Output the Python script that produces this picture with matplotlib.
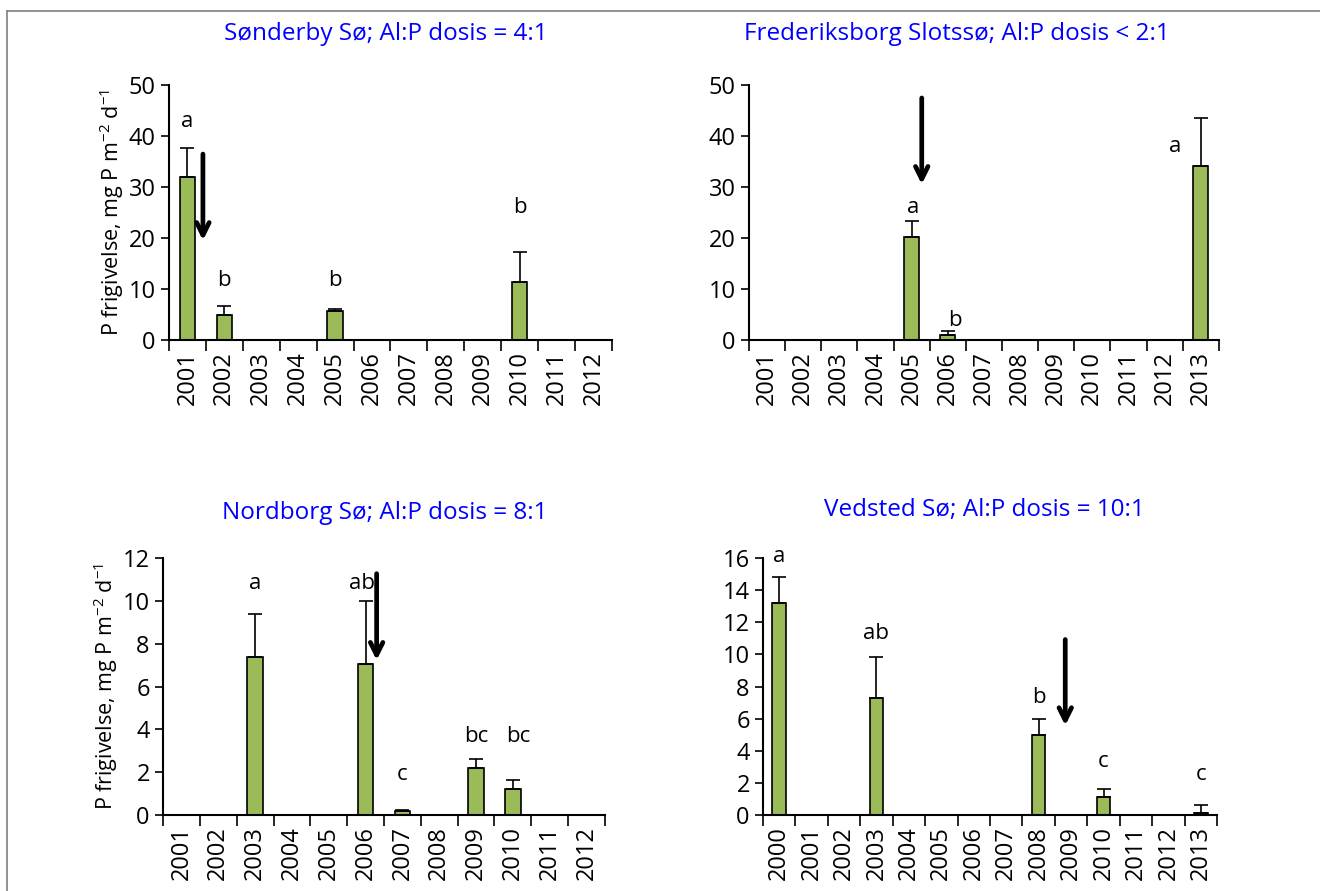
#importamos las librerías necesarias
import matplotlib
matplotlib.use("Agg")
import matplotlib.pyplot as plt
from matplotlib.lines import Line2D

plt.rcParams['font.family'] = ['Open Sans', 'DejaVu Sans']
plt.rcParams['mathtext.fontset'] = 'custom'
plt.rcParams['mathtext.rm'] = 'Open Sans'

#datos
# Sønderby Sø
years_1 = ['2001', '2002', '2003', '2004', '2005', '2006', '2007', '2008', '2009', '2010', '2011', '2012']
values_1 = [32.0, 5.0, 0, 0, 5.7, 0, 0, 0, 0, 11.4, 0, 0]
errors_1 = [5.7, 1.6, 0, 0, 0.4, 0, 0, 0, 0, 5.8, 0, 0]
letters_1 = [(0, 42.9, 'a'), (1, 11.6, 'b'), (4, 11.6, 'b'), (9, 25.9, 'b')]
arrow_1 = (0.42, 37.0, 19.0)

# Frederiksborg Slotssø
years_2 = ['2001', '2002', '2003', '2004', '2005', '2006', '2007', '2008', '2009', '2010', '2011', '2012', '2013']
values_2 = [0, 0, 0, 0, 20.1, 0.9, 0, 0, 0, 0, 0, 0, 34.2]
errors_2 = [0, 0, 0, 0, 3.2, 0.9, 0, 0, 0, 0, 0, 0, 9.4]
letters_2 = [(4.05, 25.9, 'a'), (5.2, 3.9, 'b'), (11.3, 38.0, 'a')]
arrow_2 = (4.28, 48.0, 30.0)

# Nordborg Sø
years_3 = ['2001', '2002', '2003', '2004', '2005', '2006', '2007', '2008', '2009', '2010', '2011', '2012']
values_3 = [0, 0, 7.4, 0, 0, 7.05, 0.18, 0, 2.2, 1.2, 0, 0]
errors_3 = [0, 0, 2.0, 0, 0, 2.95, 0.07, 0, 0.4, 0.45, 0, 0]
letters_3 = [(2, 10.8, 'a'), (4.9, 10.8, 'ab'), (6, 1.9, 'c'), (8, 3.65, 'bc'), (9.15, 3.65, 'bc')]
arrow_3 = (5.3, 11.4, 7.1)

# Vedsted Sø
years_4 = ['2000', '2001', '2002', '2003', '2004', '2005', '2006', '2007', '2008', '2009', '2010', '2011', '2012', '2013']
values_4 = [13.2, 0, 0, 7.3, 0, 0, 0, 0, 5.0, 0, 1.1, 0, 0, 0.15]
errors_4 = [1.6, 0, 0, 2.55, 0, 0, 0, 0, 0.95, 0, 0.5, 0, 0, 0.45]
letters_4 = [(0, 16.1, 'a'), (3, 11.3, 'ab'), (8, 7.3, 'b'), (10, 3.3, 'c'), (13, 2.5, 'c')]
arrow_4 = (8.82, 11.1, 5.4)

bar_color = '#9BBB59'
ylabel = 'P frigivelse, mg P m$^{-2}$ d$^{-1}$'
fs = 17


#función para dibujar cada panel
def panel(ax, years, values, errors, letters, arrow, ymax, ystep):
    x = list(range(len(years)))
    ax.bar(x, values, width=0.42, color=bar_color, edgecolor='black', linewidth=1.2,
           yerr=[[0] * len(errors), errors], error_kw=dict(ecolor='black', elinewidth=1.2, capsize=5, capthick=1.2))
    ax.set_xlim(-0.5, len(years) - 0.5)
    ax.set_ylim(0, ymax)
    ax.set_yticks(range(0, ymax + 1, ystep))
    ax.set_xticks([i - 0.5 for i in range(len(years) + 1)])
    ax.set_xticklabels([])
    ax.set_xticks(x, minor=True)
    ax.set_xticklabels(years, minor=True, rotation=90, fontsize=fs)
    ax.tick_params(axis='x', which='major', direction='out', length=8, width=1.2)
    ax.tick_params(axis='x', which='minor', length=0, pad=8)
    ax.tick_params(axis='y', direction='out', length=6, width=1.2, labelsize=fs)
    for s in ['top', 'right']:
        ax.spines[s].set_visible(False)
    for s in ['left', 'bottom']:
        ax.spines[s].set_linewidth(1.5)
    for (lx, ly, txt) in letters:
        ax.text(lx, ly, txt, ha='center', va='center', fontsize=16)
    ax.annotate('', xy=(arrow[0], arrow[2]), xytext=(arrow[0], arrow[1]),
                arrowprops=dict(arrowstyle='->,head_length=0.9,head_width=0.45', lw=3.4, color='black'))


fig = plt.figure(figsize=(13.2, 8.91), dpi=100)

ax1 = fig.add_axes([0.128, 0.6184, 0.3356, 0.2862])
panel(ax1, years_1, values_1, errors_1, letters_1, arrow_1, 50, 10)
ax1.set_ylabel(ylabel, fontsize=15.5, labelpad=2)

ax2 = fig.add_axes([0.5674, 0.6184, 0.356, 0.2862])
panel(ax2, years_2, values_2, errors_2, letters_2, arrow_2, 50, 10)

ax3 = fig.add_axes([0.1235, 0.0853, 0.3348, 0.2884])
panel(ax3, years_3, values_3, errors_3, letters_3, arrow_3, 12, 2)
ax3.set_ylabel(ylabel, fontsize=15.5, labelpad=2)

ax4 = fig.add_axes([0.578, 0.0853, 0.344, 0.2884])
panel(ax4, years_4, values_4, errors_4, letters_4, arrow_4, 16, 2)

#títulos en azul
tfs = 17.5
fig.text(386 / 1320, 1 - 34 / 891, 'Sønderby Sø; Al:P dosis = 4:1', color='#0000FF', fontsize=tfs, ha='center', va='center')
fig.text(957 / 1320, 1 - 34 / 891, 'Frederiksborg Slotssø; Al:P dosis < 2:1', color='#0000FF', fontsize=tfs, ha='center', va='center')
fig.text(385 / 1320, 1 - 513 / 891, 'Nordborg Sø; Al:P dosis = 8:1', color='#0000FF', fontsize=tfs, ha='center', va='center')
fig.text(984 / 1320, 1 - 510 / 891, 'Vedsted Sø; Al:P dosis = 10:1', color='#0000FF', fontsize=tfs, ha='center', va='center')

#marco gris
fig.add_artist(Line2D([7 / 1320, 7 / 1320], [0, 1 - 11 / 891], color='#808080', lw=1.2, transform=fig.transFigure))
fig.add_artist(Line2D([7 / 1320, 1], [1 - 11 / 891, 1 - 11 / 891], color='#808080', lw=1.2, transform=fig.transFigure))

plt.savefig('out.png', dpi=100)
